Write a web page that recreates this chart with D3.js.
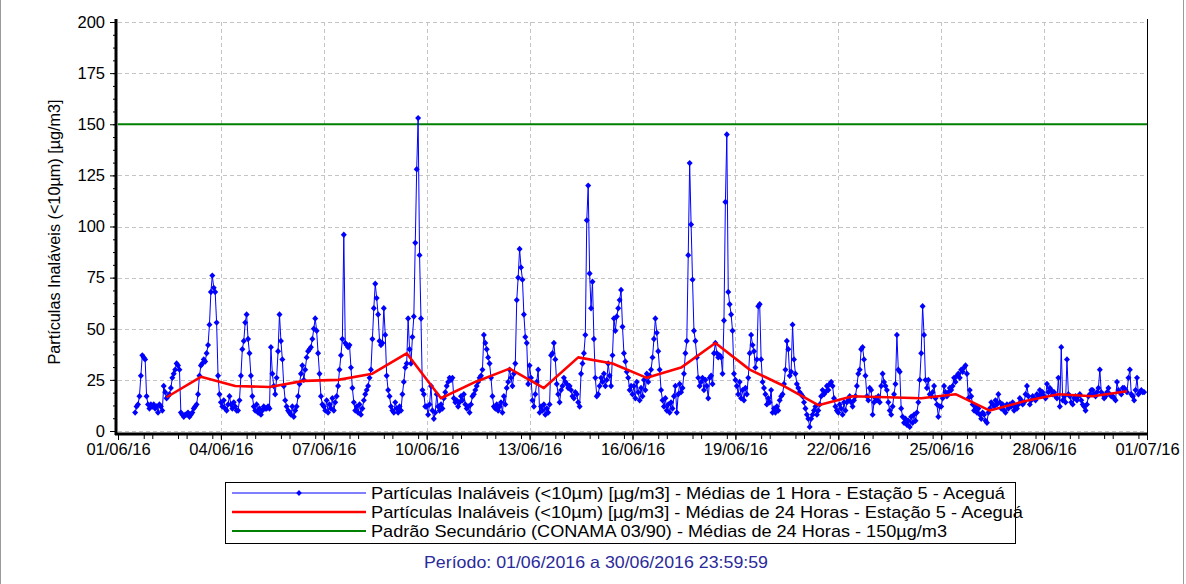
<!DOCTYPE html>
<html><head><meta charset="utf-8">
<script src="https://cdn.jsdelivr.net/npm/d3@7"></script>
<style>
body{margin:0;background:#fff}
svg{display:block}
text{font-family:"Liberation Sans",Arial,sans-serif}
</style>
</head><body>
<svg id="chart" width="1186" height="584"></svg>
<script>
// ---------------- DATA ----------------
const seriesNames = [
  "Partículas Inaláveis (<10µm) [µg/m3] - Médias de 1 Hora - Estação 5 - Aceguá",
  "Partículas Inaláveis (<10µm) [µg/m3] - Médias de 24 Horas - Estação 5 - Aceguá",
  "Padrão Secundário (CONAMA 03/90) - Médias de 24 Horas - 150µg/m3"
];
const hourlyStart = "2016-06-01 12:00";
const pm10Hourly = [
  9,12,13,17,27,37,36,35,17,13,11,13,
  12,13,11,12,9,13,12,10,22,19,16,17,18,21,26,28,30,33,32,30,9,8,7,8,
  8,9,7,8,9,11,12,13,18,27,32,33,35,34,38,42,52,68,76,70,68,53,27,18,
  14,12,15,11,10,13,17,13,11,14,12,10,10,15,27,40,44,53,57,45,38,27,17,12,
  10,13,9,11,8,10,12,11,11,12,11,41,28,22,18,26,39,57,44,35,22,15,12,10,
  9,8,12,7,10,12,17,23,28,32,25,30,36,39,40,41,45,50,55,49,38,28,17,13,
  12,10,15,9,13,11,16,10,14,17,22,30,37,45,96,43,42,41,42,31,21,14,10,12,
  9,13,8,11,15,18,20,22,26,30,45,60,72,65,57,44,42,43,60,47,27,20,17,12,
  10,9,14,11,9,12,10,18,24,31,33,55,40,33,46,56,92,128,153,86,55,20,18,12,
  12,8,13,22,10,6,9,18,12,10,13,11,16,19,22,24,26,25,26,16,14,15,12,14,
  17,15,18,13,11,12,9,13,17,18,20,22,24,26,27,30,47,43,40,36,33,26,17,12,
  11,13,10,12,14,9,17,13,21,24,30,26,22,28,33,64,75,89,80,74,57,46,43,23,
  32,26,15,12,18,24,30,9,12,10,13,8,11,9,13,37,38,43,35,23,18,14,20,22,
  26,24,23,21,22,20,17,16,19,18,14,12,28,33,38,47,103,120,77,60,73,45,26,17,
  18,22,26,24,28,22,25,33,27,22,37,55,49,56,60,64,69,51,38,34,29,26,20,22,
  18,22,16,24,19,15,21,17,25,20,28,24,27,30,36,45,55,48,39,30,20,15,12,16,
  10,13,9,14,11,17,22,9,18,23,19,21,28,38,44,86,131,101,74,49,44,36,26,22,
  24,26,20,25,22,16,26,27,23,38,43,38,36,37,36,28,54,112,145,68,62,57,49,28,
  25,22,18,24,16,20,15,21,18,26,38,47,42,39,31,35,61,62,35,24,21,18,13,16,
  14,20,9,11,9,12,10,15,17,18,23,30,44,40,27,29,52,35,28,23,21,19,18,17,
  14,11,8,6,2,6,8,10,12,8,10,13,17,20,18,19,22,20,23,24,22,16,12,10,
  9,13,11,8,14,10,14,15,17,14,12,15,17,22,28,30,40,41,35,27,17,15,21,20,
  8,14,16,15,17,14,22,28,24,22,20,14,10,8,12,18,23,47,30,29,11,7,4,6,
  3,5,2,7,4,8,5,9,14,25,38,61,47,25,21,25,18,17,19,22,16,13,7,12,
  12,16,22,19,17,19,21,20,22,26,24,27,28,26,30,29,31,32,28,16,20,17,13,10,
  12,9,11,8,6,9,8,5,4,9,11,14,13,12,15,13,18,14,11,13,10,9,13,11,
  13,12,14,10,12,11,13,16,15,13,14,18,22,17,13,15,17,16,15,18,17,20,18,19,
  17,16,23,19,21,20,18,19,17,16,26,12,41,15,17,14,35,18,17,14,13,16,17,15,
  17,18,15,13,12,10,13,17,18,20,20,18,17,19,21,30,19,18,16,17,19,21,18,17,
  17,16,15,24,20,19,18,21,21,20,19,26,30,18,17,15,20,26,18,19,20,19,19
];
const dailyStart = "2016-06-02 10:00";
const pm10Daily = [16.5,26.5,22,21.5,24.5,25,28,38,16,24,30.5,21,36,33,26,31,43,30,22,12.6,17,16.5,16,18,10,14.5,18,17,19.4];
const standardValue = 150;
const yTickValues = [0,25,50,75,100,125,150,175,200];
const xTickLabels = ["01/06/16","04/06/16","07/06/16","10/06/16","13/06/16","16/06/16","19/06/16","22/06/16","25/06/16","28/06/16","01/07/16"];
const yTitle = "Partículas Inaláveis (<10µm) [µg/m3]";
const periodText = "Período: 01/06/2016 a 30/06/2016 23:59:59";

// ---------------- CHART ----------------
const svg = d3.select("#chart");
const parse = d3.timeParse("%Y-%m-%d %H:%M");
const t0 = new Date(2016,5,1), t1 = new Date(2016,6,1);
const L = 118, R = 1147, T = 22, B = 431;
const x = d3.scaleTime().domain([t0,t1]).range([L,R]);
const y = d3.scaleLinear().domain([0,200]).range([B,T]);

const h0 = parse(hourlyStart);
const hourly = pm10Hourly.map((v,i)=>({t:d3.timeHour.offset(h0,i), v}));
const d0 = parse(dailyStart);
const daily = pm10Daily.map((v,i)=>({t:d3.timeDay.offset(d0,i), v}));

// outer frame
svg.append("rect").attr("x",0.5).attr("y",-1).attr("width",1183).attr("height",590)
  .attr("fill","none").attr("stroke","#9a9a9a");

// grid
const majorDates = xTickLabels.map((s,i)=>d3.timeDay.offset(t0,3*i));
svg.append("g").selectAll("line").data(yTickValues).join("line")
  .attr("x1",L).attr("x2",R).attr("y1",d=>Math.round(y(d))+0.5).attr("y2",d=>Math.round(y(d))+0.5)
  .attr("stroke","#c4c4c4").attr("stroke-dasharray","4,3");
svg.append("g").selectAll("line").data(majorDates.slice(1,-1)).join("line")
  .attr("x1",d=>Math.round(x(d))+0.5).attr("x2",d=>Math.round(x(d))+0.5).attr("y1",T).attr("y2",B)
  .attr("stroke","#c4c4c4").attr("stroke-dasharray","4,3");
// right border
svg.append("line").attr("x1",R+0.5).attr("x2",R+0.5).attr("y1",T-3).attr("y2",B+4).attr("stroke","#000");

// standard line
svg.append("line").attr("x1",L).attr("x2",R).attr("y1",y(standardValue)).attr("y2",y(standardValue))
  .attr("stroke","#008000").attr("stroke-width",2);

// hourly line
svg.append("path").datum(hourly)
  .attr("d",d3.line().x(d=>x(d.t)).y(d=>y(d.v)))
  .attr("fill","none").attr("stroke","#0000ff").attr("stroke-width",1);
svg.append("g").selectAll("path").data(hourly).join("path")
  .attr("transform",d=>`translate(${x(d.t)},${y(d.v)})`)
  .attr("d","M0,-3.2L3,0L0,3.2L-3,0Z").attr("fill","#0000ff");

// daily line
svg.append("path").datum(daily)
  .attr("d",d3.line().x(d=>x(d.t)).y(d=>y(d.v)))
  .attr("fill","none").attr("stroke","#ff0000").attr("stroke-width",2.6).attr("stroke-linejoin","round");

// axes
const fs = "16.5px";
const xAxisY = 434;
const gx = svg.append("g").attr("transform",`translate(0,${xAxisY})`);
gx.call(d3.axisBottom(x).tickValues(d3.timeHour.every(18).range(t0,d3.timeHour.offset(t1,1))).tickSize(5).tickFormat(""));
gx.call(g=>g.select(".domain").remove());
const gx2 = svg.append("g").attr("transform",`translate(0,${xAxisY})`);
gx2.call(d3.axisBottom(x).tickValues(majorDates).tickSize(6).tickFormat((d,i)=>xTickLabels[i]).tickPadding(3));
gx2.select(".domain").remove();
gx2.selectAll("text").attr("font-size",fs).attr("font-family",'"Liberation Sans",Arial,sans-serif').attr("fill","#000");
svg.selectAll(".tick line").attr("stroke","#000");
svg.append("line").attr("x1",L-3).attr("x2",R+1).attr("y1",xAxisY).attr("y2",xAxisY).attr("stroke","#000").attr("stroke-width",3);

const yAxisX = 116;
const gy = svg.append("g").attr("transform",`translate(${yAxisX},0)`);
gy.call(d3.axisLeft(y).tickValues(d3.range(0,200.1,6.25)).tickSize(3).tickFormat(""));
gy.select(".domain").remove();
const gy2 = svg.append("g").attr("transform",`translate(${yAxisX},0)`);
gy2.call(d3.axisLeft(y).tickValues(yTickValues).tickSize(6).tickPadding(5));
gy2.select(".domain").remove();
gy2.selectAll("text").attr("font-size",fs).attr("font-family",'"Liberation Sans",Arial,sans-serif').attr("fill","#000");
svg.selectAll(".tick line").attr("stroke","#000");
svg.append("line").attr("x1",yAxisX).attr("x2",yAxisX).attr("y1",T-3).attr("y2",xAxisY+1).attr("stroke","#000").attr("stroke-width",3);

// y title
svg.append("text").attr("transform","translate(60,232) rotate(-90)").attr("text-anchor","middle")
  .attr("font-size","16px").attr("textLength",265).attr("lengthAdjust","spacingAndGlyphs").text(yTitle);

// legend
const lg = svg.append("g");
lg.append("rect").attr("x",225.5).attr("y",482.5).attr("width",790).attr("height",61).attr("fill","none").attr("stroke","#000");
const colors = ["#0000ff","#ff0000","#008000"];
const widths = [1,2.6,2];
const legendWidths = [634, 652, 576];
seriesNames.forEach((s,i)=>{
  const yy = 493 + i*19;
  lg.append("line").attr("x1",232).attr("x2",366).attr("y1",yy).attr("y2",yy).attr("stroke",colors[i]).attr("stroke-width",widths[i]);
  if(i===0) lg.append("path").attr("transform",`translate(299,${yy})`).attr("d","M0,-3L2.8,0L0,3L-2.8,0Z").attr("fill","#0000ff");
  lg.append("text").attr("x",371).attr("y",yy+6).attr("font-size","17px")
    .attr("textLength",legendWidths[i]).attr("lengthAdjust","spacingAndGlyphs").text(s);
});
svg.append("text").attr("x",596).attr("y",568).attr("text-anchor","middle").attr("font-size","16.5px")
  .attr("textLength",344).attr("lengthAdjust","spacingAndGlyphs")
  .attr("fill","#2a2a9a").text(periodText);
</script>
</body></html>
